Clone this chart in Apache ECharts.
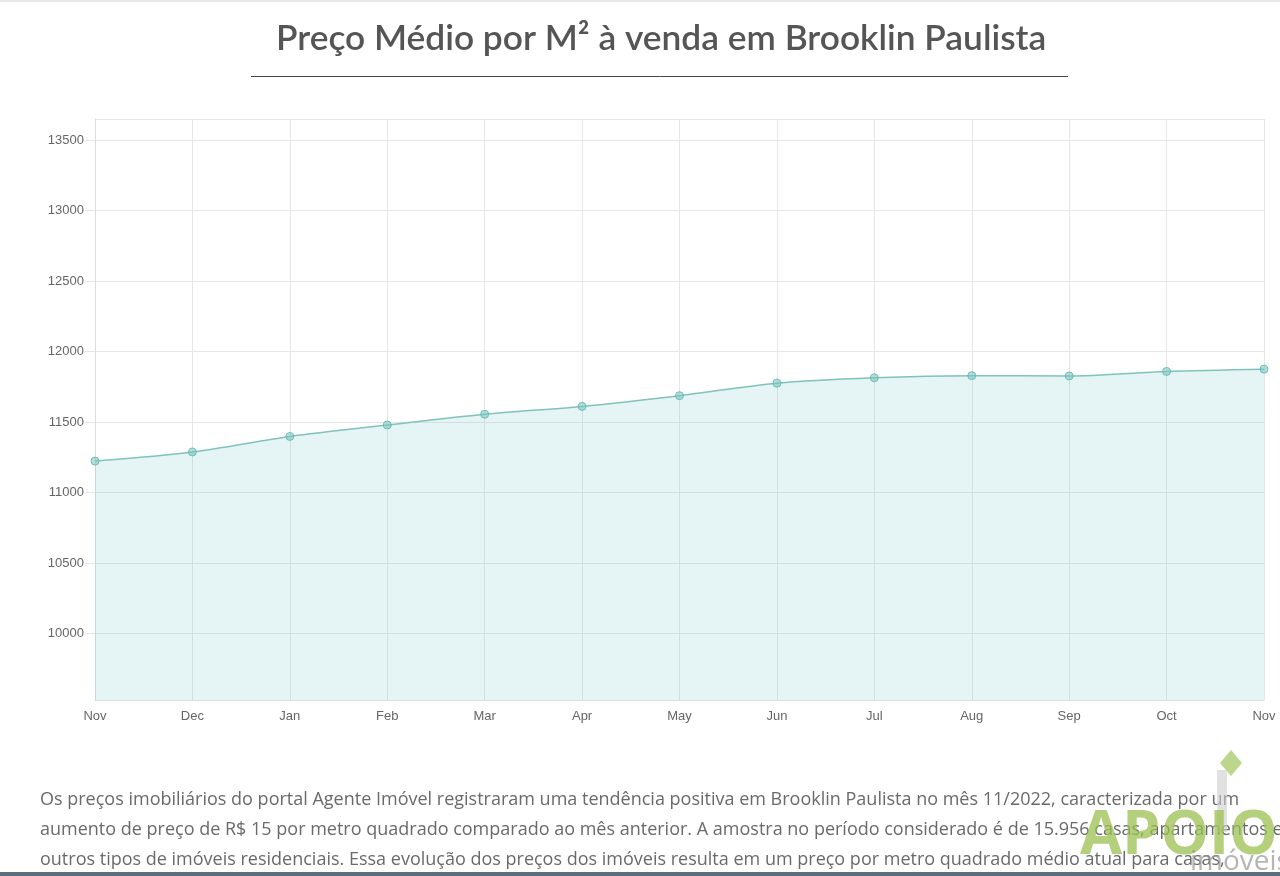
<!DOCTYPE html>
<html>
<head>
<meta charset="utf-8">
<script src="https://cdn.jsdelivr.net/npm/echarts@6/dist/echarts.min.js"></script>
<style>
html,body{margin:0;padding:0;background:#fff;}
#c{width:1280px;height:876px;}
</style>
</head>
<body>
<div id="c"></div>
<script>
const months = ['Nov','Dec','Jan','Feb','Mar','Apr','May','Jun','Jul','Aug','Sep','Oct','Nov'];
const pricePerM2 = [11224, 11289, 11399, 11480, 11556, 11612, 11688, 11777, 11815, 11830, 11828, 11860, 11876];
const yMin = 9530;
const yMax = 13650;
const titleText = 'Preço Médio por M² à venda em Brooklin Paulista';
const paragraphLines = [
  'Os preços imobiliários do portal Agente Imóvel registraram uma tendência positiva em Brooklin Paulista no mês 11/2022, caracterizada por um',
  'aumento de preço de R$ 15 por metro quadrado comparado ao mês anterior. A amostra no período considerado é de 15.956 casas, apartamentos e',
  'outros tipos de imóveis residenciais. Essa evolução dos preços dos imóveis resulta em um preço por metro quadrado médio atual para casas,'
];

const chart = echarts.init(document.getElementById('c'), null, {renderer:'canvas'});
const textFont = '"Open Sans", Lato, sans-serif';
const paraEls = paragraphLines.map((t, i) => ({
  type:'text', left:40, top: 791 + i*30,
  style:{text:t, fill:'#6a6a6a', font:'18px ' + textFont}
}));
chart.setOption({
  animation:false,
  backgroundColor:'#fff',
  title:{
    text:titleText, left:271, top:16,
    textStyle:{fontFamily:'Lato, "Open Sans", sans-serif', fontSize:35.3, fontWeight:600, color:'#555'}
  },
  grid:{left:95, right:16, top:119, bottom:176},
  xAxis:{
    type:'category', data:months, boundaryGap:false,
    axisLine:{show:true, lineStyle:{color:'#dcdcdc'}},
    axisTick:{show:false},
    splitLine:{show:true, lineStyle:{color:'#e6e6e6'}},
    axisLabel:{color:'#666', fontFamily:'Arial, "Liberation Sans", sans-serif', fontSize:13, margin:10}
  },
  yAxis:{
    type:'value', min:yMin, max:yMax, splitNumber:8,
    axisLine:{show:true, lineStyle:{color:'#dcdcdc'}},
    axisTick:{show:true, length:10, lineStyle:{color:'#e6e6e6'}},
    splitLine:{show:true, lineStyle:{color:'#e6e6e6'}},
    axisLabel:{color:'#666', fontFamily:'Arial, "Liberation Sans", sans-serif', fontSize:13, margin:11,
      showMinLabel:false, showMaxLabel:false,
      formatter: v => (v % 500 === 0 ? String(v) : '')}
  },
  series:[{
    type:'line', data:pricePerM2, smooth:0.3,
    symbol:'circle', symbolSize:8,
    lineStyle:{color:'#80c2bd', width:1.5},
    itemStyle:{color:'rgba(120,195,190,0.55)', borderColor:'rgba(100,185,180,0.9)', borderWidth:1},
    areaStyle:{color:'rgba(110,195,195,0.25)', origin:'start'}
  }],
  graphic:[
    {type:'rect', left:0, top:0, shape:{width:1280, height:2}, style:{fill:'#e8e8e8'}},
    {type:'line', shape:{x1:251, y1:76.5, x2:1068, y2:76.5}, style:{stroke:'#444', lineWidth:1}},
    ...paraEls,
    {type:'rect', left:0, top:872, shape:{width:1280, height:4}, style:{fill:'#5b6e7e'}},
    // watermark logo
    {type:'polygon', shape:{points:[[1231,750],[1242,763],[1231,776],[1220,763]]}, style:{fill:'rgba(165,200,100,0.75)'}},
    {type:'rect', left:1217, top:770, shape:{width:10, height:62}, style:{fill:'rgba(205,205,205,0.6)'}},
    {type:'text', left:1080, top:806, style:{text:'APOIO', fill:'rgba(155,192,80,0.75)', font:'bold 61px ' + textFont}},
    {type:'text', left:1190, top:848, style:{text:'imóveis', fill:'rgba(150,150,150,0.7)', font:'28px ' + textFont}}
  ]
});
</script>
</body>
</html>
